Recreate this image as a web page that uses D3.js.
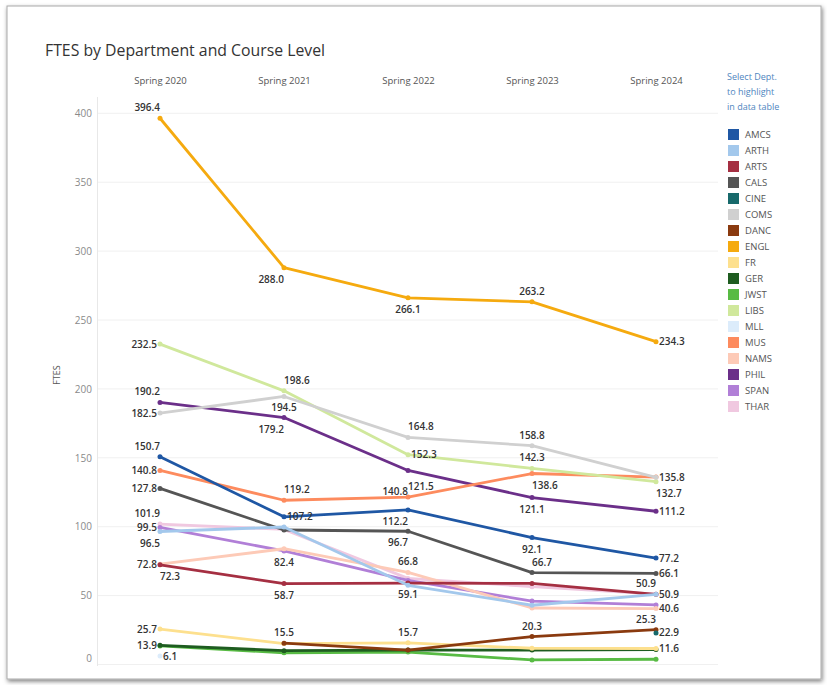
<!DOCTYPE html>
<html><head><meta charset="utf-8">
<script src="https://cdn.jsdelivr.net/npm/d3@7"></script>
<style>
html,body{margin:0;padding:0;background:#fff;}
svg{display:block;font-family:"Open Sans",sans-serif;}
</style></head>
<body>
<svg id="chart" width="827" height="685"></svg>
<script>
// ---- data ----
const years = ["Spring 2020","Spring 2021","Spring 2022","Spring 2023","Spring 2024"];
const depts = ["AMCS","ARTH","ARTS","CALS","CINE","COMS","DANC","ENGL","FR","GER","JWST","LIBS","MLL","MUS","NAMS","PHIL","SPAN","THAR"];
const colors = ["#1f57a4","#a3c8ec","#a52f42","#555555","#17696b","#d0d0d0","#8a3a0f","#f5aa0f","#fde08e","#1e5c20","#58bb44","#d0e89c","#dcecfb","#fd8b5e","#fdcab7","#6b2f89","#b17fd7","#f0c8e0"];
const AMCS = [150.7,107.2,112.2,92.1,77.2];
const ARTH = [96.5,99.8,57.5,43.0,50.9];
const ARTS = [72.3,58.7,59.1,58.8,50.9];
const CALS = [127.8,97.6,96.7,66.7,66.1];
const CINE = [null,null,null,null,22.9];
const COMS = [182.5,194.5,164.8,158.8,135.8];
const DANC = [null,15.5,10.5,20.3,25.3];
const ENGL = [396.4,288.0,266.1,263.2,234.3];
const FR   = [25.7,15.2,15.7,11.8,11.6];
const GER  = [13.9,10.0,10.5,10.5,10.8];
const JWST = [13.5,8.5,9.0,3.3,3.8];
const LIBS = [232.5,198.6,152.3,142.3,132.7];
const MLL  = [6.1,null,null,null,null];
const MUS  = [140.8,119.2,121.5,138.6,136.0];
const NAMS = [72.8,84.0,66.8,41.0,40.6];
const PHIL = [190.2,179.2,140.8,121.1,111.2];
const SPAN = [99.5,82.4,61.0,46.0,43.2];
const THAR = [101.9,98.0,62.5,56.5,51.0];
const seriesValues = [AMCS,ARTH,ARTS,CALS,CINE,COMS,DANC,ENGL,FR,GER,JWST,LIBS,MLL,MUS,NAMS,PHIL,SPAN,THAR];
const yTicks = [0,50,100,150,200,250,300,350,400];
// which points carry a value label, and on which side
const labelSpots = [
 ["ENGL",0,"AL"],["LIBS",0,"L"],["PHIL",0,"AL"],["COMS",0,"L"],["AMCS",0,"AL"],["MUS",0,"L"],["CALS",0,"L"],
 ["THAR",0,"AL"],["SPAN",0,"L"],["ARTH",0,"BL"],["NAMS",0,"L"],["ARTS",0,"BR"],["FR",0,"L"],["GER",0,"L"],["MLL",0,"R"],
 ["ENGL",1,"BL"],["LIBS",1,"AR"],["COMS",1,"B"],["PHIL",1,"BL"],["MUS",1,"AR"],["AMCS",1,"R"],["SPAN",1,"B"],["ARTS",1,"B"],["DANC",1,"A"],
 ["ENGL",2,"B"],["COMS",2,"AR"],["LIBS",2,"R"],["PHIL",2,"BL2"],["MUS",2,"AR"],["AMCS",2,"BL"],["CALS",2,"BL"],["NAMS",2,"A"],["ARTS",2,"B"],["FR",2,"A"],
 ["ENGL",3,"A"],["COMS",3,"A"],["LIBS",3,"A"],["MUS",3,"BR"],["PHIL",3,"B"],["AMCS",3,"B"],["CALS",3,"AR"],["DANC",3,"A"],
 ["ENGL",4,"R"],["COMS",4,"R"],["LIBS",4,"BR"],["PHIL",4,"R"],["AMCS",4,"R"],["CALS",4,"R"],["ARTS",4,"AL"],["ARTH",4,"R"],["NAMS",4,"R"],["DANC",4,"AL"],["CINE",4,"R"],["FR",4,"R"]
];

// ---- drawing ----
const svg = d3.select("#chart");
const defs = svg.append("defs");
const f = defs.append("filter").attr("id","sh").attr("x","-5%").attr("y","-5%").attr("width","110%").attr("height","110%");
f.append("feDropShadow").attr("dx",1).attr("dy",2).attr("stdDeviation",2).attr("flood-color","#000").attr("flood-opacity",0.5);

svg.append("rect").attr("x",7).attr("y",6).attr("width",814).attr("height",673)
  .attr("fill","#fff").attr("stroke","#aaa").attr("stroke-width",1).attr("filter","url(#sh)");

svg.append("text").attr("x",45).attr("y",56).attr("font-size",15.8).attr("fill","#333")
  .text("FTES by Department and Course Level");

const x = d3.scalePoint().domain(years).range([98,718]).padding(0.5);
const y = d3.scaleLinear().domain([0,400]).range([664.5,113.3]);

// grid
svg.append("g").selectAll("line").data(yTicks).join("line")
  .attr("x1",98).attr("x2",718).attr("y1",d=>y(d)).attr("y2",d=>y(d))
  .attr("stroke","#f0f0f0").attr("stroke-width",1);
svg.append("line").attr("x1",97.5).attr("x2",97.5).attr("y1",97).attr("y2",666)
  .attr("stroke","#e8e8e8");

// y axis
const yAxis = svg.append("g").attr("transform","translate(97,0)")
  .call(d3.axisLeft(y).tickValues(yTicks).tickSize(0).tickPadding(5));
yAxis.select(".domain").remove();
yAxis.selectAll("text").attr("font-size",10).attr("fill","#8a8a8a").attr("font-family","Open Sans, sans-serif")
  .attr("dy",d=>d===0?"-0.3em":"0.32em");
svg.append("text").attr("transform","translate(60,375) rotate(-90)").attr("text-anchor","middle")
  .attr("font-size",9).attr("fill","#555").text("FTES");

// column headers
const xAxis = svg.append("g").attr("transform","translate(0,84)")
  .call(d3.axisTop(x).tickSize(0).tickPadding(0));
xAxis.select(".domain").remove();
xAxis.selectAll("text").attr("font-size",9.5).attr("fill","#555").attr("font-family","Open Sans, sans-serif");

// lines
const line = d3.line().defined(d=>d.v!=null).x(d=>x(d.year)).y(d=>y(d.v));
const series = depts.map((d,i)=>({dept:d,color:colors[i],pts:seriesValues[i].map((v,j)=>({year:years[j],v}))}));
const gLines = svg.append("g");
series.slice().reverse().forEach(s=>{
  gLines.append("path").attr("d",line(s.pts)).attr("fill","none").attr("stroke",s.color)
    .attr("stroke-width",2.8).attr("stroke-linejoin","round");
  gLines.selectAll(null).data(s.pts.filter(p=>p.v!=null)).join("circle")
    .attr("cx",p=>x(p.year)).attr("cy",p=>y(p.v)).attr("r",2.5).attr("fill",s.color);
});

// value labels
const offs = {L:["end",-3,3.5],R:["start",3,3.5],A:["middle",0,-7],B:["middle",0,15],
  AL:["end",0,-7],AR:["start",0,-7],BL:["end",0,15],BR:["start",0,15],BL2:["end",0,25]};
svg.append("g").selectAll("text").data(labelSpots).join("text")
  .attr("x",d=>x(years[d[1]])+offs[d[2]][1])
  .attr("y",d=>y(seriesValues[depts.indexOf(d[0])][d[1]])+offs[d[2]][2])
  .attr("text-anchor",d=>offs[d[2]][0])
  .attr("font-size",10).attr("font-weight",600).attr("fill","#333")
  .text(d=>seriesValues[depts.indexOf(d[0])][d[1]].toFixed(1));

// legend
const lt = svg.append("text").attr("x",727).attr("y",80).attr("font-size",9).attr("fill","#4f86c0");
["Select Dept.","to highlight","in data table"].forEach((t,i)=>lt.append("tspan").attr("x",727).attr("dy",i?15:0).text(t));
const lg = svg.append("g").selectAll("g").data(series).join("g")
  .attr("transform",(d,i)=>`translate(728,${129+i*16})`);
lg.append("rect").attr("width",11).attr("height",11).attr("fill",d=>d.color);
lg.append("text").attr("x",17).attr("y",9).attr("font-size",9.5).attr("fill","#555").text(d=>d.dept);
</script>
</body></html>
